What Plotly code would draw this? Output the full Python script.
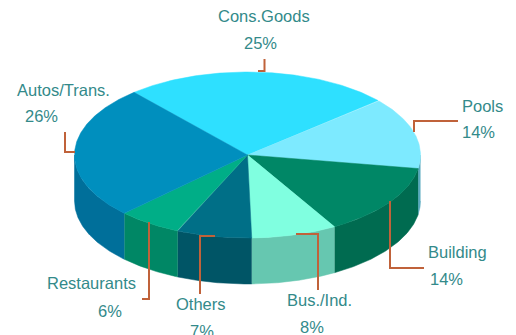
import numpy as np
import plotly.graph_objects as go

# Portfolio share by sector, clockwise from the upper left
categories = ["Cons.Goods", "Pools", "Building", "Bus./Ind.", "Others", "Restaurants", "Autos/Trans."]
shares = [25, 14, 14, 8, 7, 6, 26]
top_colors = ["#2EE0FF", "#7DEAFF", "#008766", "#80FFE0", "#006F87", "#00AE87", "#008FBE"]
side_colors = ["#2EB4CC", "#55A8BE", "#006B50", "#66C7B0", "#005566", "#008765", "#006F9A"]

# Drawing geometry of the disc, in page pixels
CX, CY = 247.5, 155.0
RX, RY = 173.0, 83.0
DEPTH = 46.0
START_DEG = -41.0

TEXT_COLOR = "#338A8A"
LEADER_COLOR = "#C0623A"
FONT = "Liberation Sans"
FONT_SIZE = 16.5

# Leader polylines and label anchors per category
leaders = {
    "Cons.Goods": ([264.5, 264.5, 258], [59, 71, 71]),
    "Pools": ([458, 414, 414], [121, 121, 132]),
    "Building": ([424, 390, 390], [268, 268, 201]),
    "Bus./Ind.": ([296, 318, 318], [234, 234, 290]),
    "Others": ([215, 200, 200], [236, 236, 294]),
    "Restaurants": ([142, 149, 149], [299, 299, 222]),
    "Autos/Trans.": ([65, 65, 75], [132, 152, 152]),
}
name_pos = {
    "Cons.Goods": (264, 16), "Pools": (482, 106), "Building": (457, 252), "Bus./Ind.": (319, 300),
    "Others": (201, 304), "Restaurants": (91, 283), "Autos/Trans.": (63, 90),
}
pct_pos = {
    "Cons.Goods": (260, 43), "Pools": (478, 132), "Building": (446, 279), "Bus./Ind.": (312, 327),
    "Others": (202, 331), "Restaurants": (110, 311), "Autos/Trans.": (41, 116),
}


def rim(theta_deg, drop=0.0):
    t = np.radians(theta_deg)
    return CX + RX * np.sin(t), CY - RY * np.cos(t) + drop


edges = START_DEG + np.concatenate([[0], np.cumsum(shares)]) * 360.0 / sum(shares)
fig = go.Figure()

# Outer wall: only the arc between 90 and 270 degrees faces the viewer
for i, cat in enumerate(categories):
    lo, hi = max(edges[i], 90.0), min(edges[i + 1], 270.0)
    if hi <= lo:
        continue
    th = np.linspace(lo, hi, 80)
    x_up, y_up = rim(th)
    x_dn, y_dn = rim(th[::-1], DEPTH)
    fig.add_trace(go.Scatter(
        x=np.concatenate([x_up, x_dn]), y=np.concatenate([y_up, y_dn]),
        mode="lines", fill="toself", fillcolor=side_colors[i],
        line=dict(color=side_colors[i], width=0.5), hoverinfo="skip", showlegend=False,
    ))

# Top face wedges
for i, cat in enumerate(categories):
    th = np.linspace(edges[i], edges[i + 1], 120)
    x_arc, y_arc = rim(th)
    fig.add_trace(go.Scatter(
        x=np.concatenate([[CX], x_arc, [CX]]), y=np.concatenate([[CY], y_arc, [CY]]),
        mode="lines", fill="toself", fillcolor=top_colors[i],
        line=dict(color=top_colors[i], width=0.5), name=cat, hoverinfo="name", showlegend=False,
    ))

# Leaders and labels sit above the disc
for i, cat in enumerate(categories):
    lx, ly = leaders[cat]
    fig.add_trace(go.Scatter(
        x=lx, y=ly, mode="lines", line=dict(color=LEADER_COLOR, width=2),
        hoverinfo="skip", showlegend=False,
    ))
    for (px, py), text in ((name_pos[cat], cat), (pct_pos[cat], f"{shares[i]}%")):
        fig.add_annotation(
            x=px, y=py, text=text, showarrow=False, xanchor="center", yanchor="middle",
            font=dict(family=FONT, size=FONT_SIZE, color=TEXT_COLOR),
        )

fig.update_layout(
    width=516, height=335, margin=dict(l=0, r=0, t=0, b=0),
    paper_bgcolor="white", plot_bgcolor="white",
    xaxis=dict(range=[0, 516], visible=False, fixedrange=True),
    yaxis=dict(range=[335, 0], visible=False, fixedrange=True),
)
fig.write_html("out.html", config={"displayModeBar": False})
